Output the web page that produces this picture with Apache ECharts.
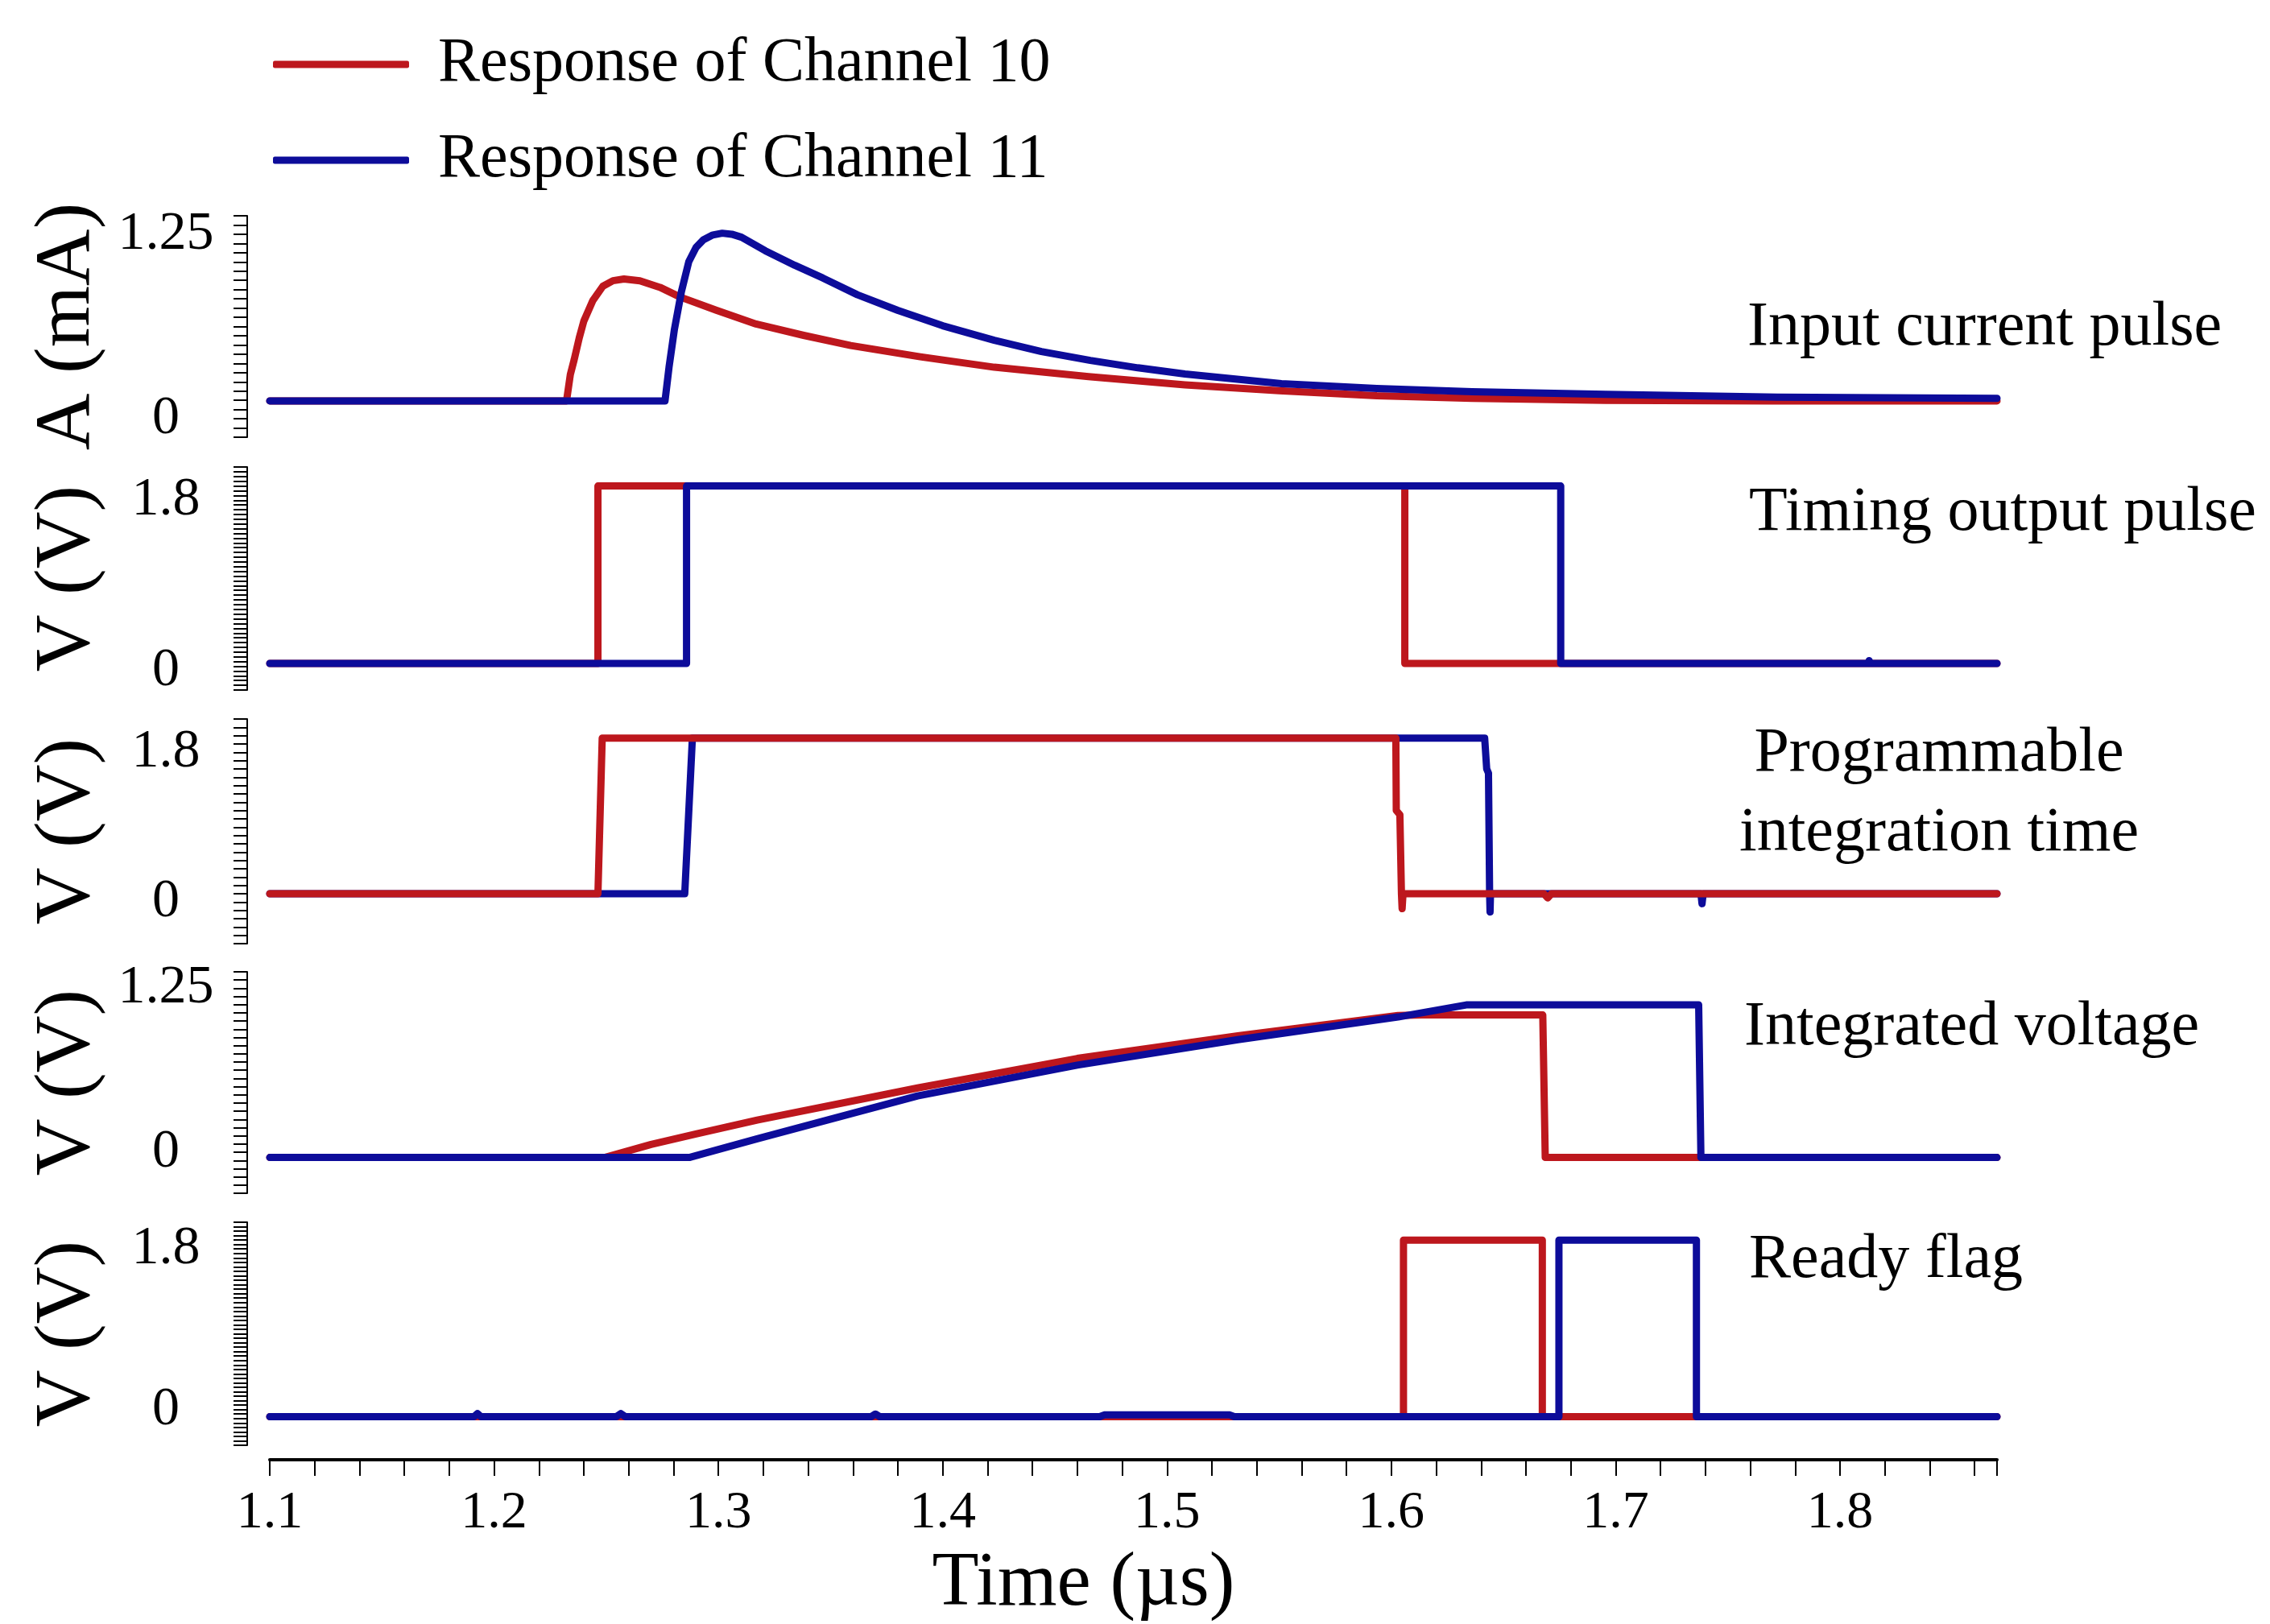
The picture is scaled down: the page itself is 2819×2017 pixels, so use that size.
<!DOCTYPE html>
<html><head><meta charset="utf-8">
<script src="https://cdn.jsdelivr.net/npm/echarts@6/dist/echarts.min.js"></script>
<style>html,body{margin:0;padding:0;background:#fff}#c{width:2819px;height:2017px}</style>
</head><body><div id="c"></div>
<script>
// ---------- data (time in µs, value) ----------
const seriesNames = ['Response of Channel 10', 'Response of Channel 11'];
const panelTitles = ['Input current pulse', 'Timing output pulse', 'Programmable\nintegration time', 'Integrated voltage', 'Ready flag'];
const yNames = ['A (mA)', 'V (V)', 'V (V)', 'V (V)', 'V (V)'];
const yLabelValues = [[0, 1.25], [0, 1.8], [0, 1.8], [0, 1.25], [0, 1.8]];
const xTickLabels = [1.1, 1.2, 1.3, 1.4, 1.5, 1.6, 1.7, 1.8];

const ch10Current = [[1.10,0.121],[1.2323,0.121],[1.2340,0.30],[1.2357,0.40],[1.2380,0.55],[1.2400,0.661],[1.2440,0.80],[1.2485,0.898],[1.2530,0.935],[1.2579,0.947],[1.2650,0.935],[1.2740,0.89],[1.2827,0.826],[1.2990,0.735],[1.3168,0.642],[1.3380,0.565],[1.3590,0.496],[1.3900,0.420],[1.4230,0.349],[1.4650,0.285],[1.5080,0.230],[1.5500,0.190],[1.5935,0.156],[1.6360,0.138],[1.6955,0.125],[1.7700,0.121],[1.8700,0.121]];
const ch11Current = [[1.10,0.121],[1.2762,0.121],[1.2780,0.35],[1.2804,0.606],[1.2835,0.86],[1.2868,1.064],[1.2900,1.16],[1.2932,1.211],[1.2975,1.245],[1.3017,1.257],[1.3060,1.250],[1.3103,1.23],[1.3209,1.138],[1.3340,1.04],[1.3465,0.954],[1.3620,0.84],[1.3800,0.734],[1.4000,0.63],[1.4230,0.532],[1.4440,0.455],[1.4658,0.395],[1.4870,0.345],[1.5080,0.303],[1.5510,0.238],[1.5935,0.205],[1.6360,0.183],[1.6955,0.165],[1.7720,0.147],[1.8700,0.138]];

const ch10Timing = [[1.10,0.08],[1.2463,0.08],[1.2463,1.95],[1.6060,1.95],[1.6060,0.08],[1.87,0.08]];
const ch11Timing = [[1.10,0.08],[1.2858,0.08],[1.2858,1.95],[1.6755,1.95],[1.6755,0.08],[1.8125,0.08],[1.8130,0.11],[1.8135,0.08],[1.87,0.08]];

const ch10Integ = [[1.10,0.10],[1.2463,0.10],[1.2482,1.97],[1.6020,1.97],[1.6022,1.10],[1.6038,1.05],[1.6045,0.10],[1.6048,-0.08],[1.6052,0.10],[1.6680,0.10],[1.6697,0.05],[1.6714,0.10],[1.87,0.10]];
const ch11Integ = [[1.10,0.10],[1.2850,0.10],[1.2884,1.97],[1.6416,1.97],[1.6425,1.60],[1.6433,1.55],[1.6438,0.10],[1.6440,-0.12],[1.6442,0.10],[1.7380,0.10],[1.7385,-0.02],[1.7390,0.10],[1.87,0.10]];

const ch10Voltage = [[1.10,-0.04],[1.2493,-0.04],[1.2700,0.06],[1.2900,0.14],[1.3173,0.245],[1.3888,0.49],[1.4600,0.715],[1.5316,0.888],[1.6030,1.042],[1.6136,1.046],[1.6675,1.046],[1.6686,-0.04],[1.87,-0.04]];
const ch11Voltage = [[1.10,-0.04],[1.2870,-0.04],[1.3173,0.102],[1.3888,0.429],[1.4600,0.664],[1.5316,0.858],[1.6030,1.031],[1.6334,1.123],[1.7370,1.123],[1.7380,-0.04],[1.87,-0.04]];

const ch10Ready = [[1.10,-0.08],[1.6054,-0.08],[1.6054,1.90],[1.6673,1.90],[1.6673,-0.08],[1.87,-0.08]];
const ch11Ready = [[1.10,-0.08],[1.1910,-0.08],[1.1926,-0.045],[1.1942,-0.08],[1.2545,-0.08],[1.2565,-0.045],[1.2585,-0.08],[1.3680,-0.08],[1.3700,-0.05],[1.3720,-0.08],[1.4700,-0.08],[1.4720,-0.06],[1.5280,-0.06],[1.5300,-0.08],[1.6747,-0.08],[1.6747,1.90],[1.7360,1.90],[1.7360,-0.08],[1.87,-0.08]];

// ---------- layout / style ----------
const FONT = "'Liberation Serif','Times New Roman',serif";
const RED = '#bd171d', BLUE = '#0d0c9a';
const grids = [
  {top: 268, height: 275},
  {top: 580, height: 277},
  {top: 893, height: 279},
  {top: 1207, height: 275},
  {top: 1518, height: 277}
];
const yRanges = [
  {min: -0.125, max: 1.375, interval: 0.0625},
  {min: -0.2, max: 2.15, interval: 0.05},
  {min: -0.5, max: 2.2, interval: 0.1},
  {min: -0.3125, max: 1.375, interval: 0.0625},
  {min: -0.4, max: 2.1, interval: 0.05}
];
const panels = [
  [ch10Current, ch11Current, false],
  [ch10Timing, ch11Timing, false],
  [ch10Integ, ch11Integ, true],   // red drawn on top in this panel
  [ch10Voltage, ch11Voltage, false],
  [ch10Ready, ch11Ready, false]
];

const grid = grids.map(g => ({left: 335, right: 339, top: g.top, height: g.height}));
const xAxis = grids.map((g, i) => {
  const last = i === grids.length - 1;
  return {
    type: 'value', gridIndex: i, min: 1.1, max: 1.87, interval: 0.1,
    show: last, offset: last ? 18 : 0, position: 'bottom',
    name: last ? 'Time (µs)' : '', nameLocation: 'middle', nameGap: 108,
    nameTextStyle: {fontFamily: FONT, fontSize: 95, color: '#000', padding: [0, 124, 0, 0]},
    axisLine: {show: last, onZero: false, lineStyle: {color: '#000', width: 4}},
    axisTick: {show: last, length: 20, lineStyle: {color: '#000', width: 2}},
    minorTick: {show: last, splitNumber: 5, length: 20, lineStyle: {color: '#000', width: 2}},
    axisLabel: {show: last, margin: 34, fontFamily: FONT, fontSize: 66, color: '#000',
      customValues: xTickLabels, formatter: v => v.toFixed(1)},
    splitLine: {show: false}, minorSplitLine: {show: false}
  };
});
const yAxis = grids.map((g, i) => ({
  type: 'value', gridIndex: i, position: 'left', offset: 28,
  min: yRanges[i].min, max: yRanges[i].max, interval: yRanges[i].interval,
  name: yNames[i], nameLocation: 'middle', nameGap: 174,
  nameTextStyle: {fontFamily: FONT, fontSize: 98, color: '#000'},
  axisLine: {show: true, onZero: false, lineStyle: {color: '#000', width: 2}},
  axisTick: {show: true, length: 17, lineStyle: {color: '#000', width: 2}},
  axisLabel: {show: true, customValues: yLabelValues[i], align: 'center', margin: 101,
    fontFamily: FONT, fontSize: 68, color: '#000', formatter: v => String(v)},
  splitLine: {show: false}
}));

const series = [];
panels.forEach((p, i) => {
  const mk = (k) => ({
    name: seriesNames[k], type: 'line', xAxisIndex: i, yAxisIndex: i,
    data: p[k], showSymbol: false, symbol: 'none', smooth: false, animation: false,
    lineStyle: {width: 9, color: k === 0 ? RED : BLUE, join: 'round', cap: 'round'},
    itemStyle: {color: k === 0 ? RED : BLUE}
  });
  if (p[2]) { series.push(mk(1)); series.push(mk(0)); }
  else { series.push(mk(0)); series.push(mk(1)); }
});

const txt = (text, x, y, align) => ({
  type: 'text', x: x, y: y, silent: true,
  style: {text: text, fill: '#000', font: `78px ${FONT}`, textAlign: align || 'left',
    textVerticalAlign: 'middle', lineHeight: 99}
});

const option = {
  backgroundColor: '#fff',
  animation: false,
  legend: {
    data: seriesNames, orient: 'vertical', left: 334, top: 35,
    itemWidth: 169, itemHeight: 9, itemGap: 39, icon: 'roundRect',
    textStyle: {fontFamily: FONT, fontSize: 78, color: '#000', lineHeight: 80, padding: [0, 0, 0, 31]}
  },
  grid, xAxis, yAxis, series,
  graphic: [
    txt(panelTitles[0], 2170, 408),
    txt(panelTitles[1], 2172, 638),
    txt(panelTitles[2], 2408, 986, 'center'),
    txt(panelTitles[3], 2166, 1277),
    txt(panelTitles[4], 2172, 1566)
  ]
};
const chart = echarts.init(document.getElementById('c'), null, {renderer: 'canvas'});
chart.setOption(option);
</script>
</body></html>
